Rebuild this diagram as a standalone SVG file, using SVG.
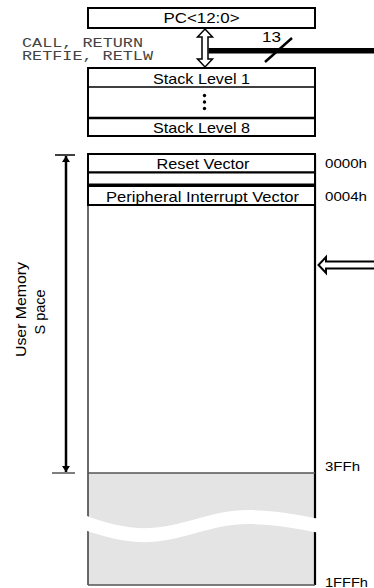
<svg xmlns="http://www.w3.org/2000/svg" width="374" height="588" viewBox="0 0 374 588">
<defs>
<style>
.t{font-family:"Liberation Sans",Arial,sans-serif;font-size:15px;fill:#000}
.addr{font-family:"Liberation Sans",Arial,sans-serif;font-size:12px;fill:#000}
.mono{font-family:"Liberation Mono","Courier New",monospace;font-size:12.5px;fill:#444}
.box{fill:#fff;stroke:#000;stroke-width:2}
</style>
<marker id="ah" viewBox="0 0 6 8" refX="6" refY="4" markerWidth="6" markerHeight="8" markerUnits="userSpaceOnUse" orient="auto">
<path d="M0,0 L6,4 L0,8 Z" fill="#000"/>
</marker>
</defs>
<rect width="374" height="588" fill="#fff"/>

<g id="pc">
<rect class="box" x="88" y="8" width="227" height="20"/>
<text class="t" x="201.5" y="23" text-anchor="middle" textLength="76" lengthAdjust="spacingAndGlyphs">PC&lt;12:0&gt;</text>
</g>

<g id="instr">
<text class="mono" x="22" y="46.5" textLength="121" lengthAdjust="spacingAndGlyphs">CALL, RETURN</text>
<text class="mono" x="22" y="59.5" textLength="131" lengthAdjust="spacingAndGlyphs">RETFIE, RETLW</text>
</g>

<g id="stack">
<rect class="box" x="88" y="68" width="227" height="68"/>
<line x1="88" y1="87" x2="315" y2="87" stroke="#000" stroke-width="1.5"/>
<line x1="88" y1="118" x2="315" y2="118" stroke="#000" stroke-width="2.5"/>
<text class="t" x="201.5" y="84" text-anchor="middle" textLength="97" lengthAdjust="spacingAndGlyphs">Stack Level 1</text>
<circle cx="204.5" cy="95.5" r="1.7" fill="#000"/>
<circle cx="204.5" cy="102" r="1.7" fill="#000"/>
<circle cx="204.5" cy="108.5" r="1.7" fill="#000"/>
<text class="t" x="201.5" y="132.5" text-anchor="middle" textLength="97" lengthAdjust="spacingAndGlyphs">Stack Level 8</text>
</g>

<g id="memory">
<rect x="88" y="473" width="227" height="112" fill="#e4e4e4"/>
<line x1="88" y1="154" x2="88" y2="585" stroke="#444" stroke-width="1.6"/>
<line x1="315" y1="154" x2="315" y2="585" stroke="#000" stroke-width="2.2"/>
<line x1="88" y1="473" x2="315" y2="473" stroke="#555" stroke-width="1.5"/>
<line x1="88" y1="585" x2="315" y2="585" stroke="#555" stroke-width="1.5"/>
<path d="M82,514 C106,524 130,529 150,528 C185,526 215,509 250,510 C280,511 300,515 320,519 L320,533 C300,529 280,525 250,524 C215,523 185,540 150,542 C130,543 106,538 82,529 Z" fill="#fff"/>
<rect class="box" x="88" y="154" width="227" height="18.5"/>
<rect class="box" x="88" y="172.5" width="227" height="12"/>
<rect class="box" x="88" y="186" width="227" height="19"/>
<text class="t" x="203" y="169" text-anchor="middle" textLength="93" lengthAdjust="spacingAndGlyphs">Reset Vector</text>
<text class="t" x="202.5" y="201.5" text-anchor="middle" textLength="193" lengthAdjust="spacingAndGlyphs">Peripheral Interrupt Vector</text>
</g>

<g id="addresses">
<text class="addr" x="325" y="168" textLength="42" lengthAdjust="spacingAndGlyphs">0000h</text>
<text class="addr" x="325" y="201" textLength="42" lengthAdjust="spacingAndGlyphs">0004h</text>
<text class="addr" x="325" y="471" textLength="35" lengthAdjust="spacingAndGlyphs">3FFh</text>
<text class="addr" x="325" y="586.5" font-size="11.5" textLength="43" lengthAdjust="spacingAndGlyphs">1FFFh</text>
</g>

<g id="user-space">
<line x1="55" y1="155" x2="75" y2="155" stroke="#000" stroke-width="1.5"/>
<line x1="52" y1="473" x2="75" y2="473" stroke="#555" stroke-width="1.5"/>
<line x1="66" y1="310" x2="66" y2="156" stroke="#000" stroke-width="2.5" marker-end="url(#ah)"/>
<line x1="66" y1="310" x2="66" y2="472" stroke="#000" stroke-width="2.5" marker-end="url(#ah)"/>
<text class="t" transform="translate(26,309.5) rotate(-90)" text-anchor="middle" textLength="95" lengthAdjust="spacingAndGlyphs">User Memory</text>
<text class="t" transform="translate(45,312) rotate(-90)" text-anchor="middle" textLength="45" lengthAdjust="spacingAndGlyphs">S pace</text>
</g>

<g id="connectors">
<path d="M205,29 L212.5,37 L208,37 L208,59 L212.5,59 L205,67 L197.5,59 L202,59 L202,37 L197.5,37 Z" fill="#fff" stroke="#000" stroke-width="1.5" stroke-linejoin="miter"/>
<rect x="208.5" y="48" width="166" height="5.5" fill="#000"/>
<line x1="265" y1="62" x2="292" y2="38" stroke="#000" stroke-width="2.5"/>
<text class="t" x="262" y="42" font-size="14" textLength="19" lengthAdjust="spacingAndGlyphs">13</text>
<path d="M375,261.5 L326,261.5 L326,257 L318.5,265 L326,273 L326,268.5 L375,268.5" fill="#fff" stroke="#000" stroke-width="2"/>
</g>
</svg>
